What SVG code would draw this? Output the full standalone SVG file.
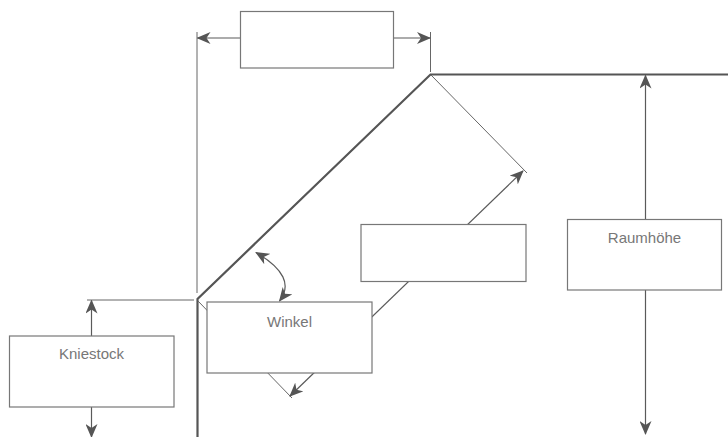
<svg xmlns="http://www.w3.org/2000/svg" width="728" height="437" viewBox="0 0 728 437">
<style>
.box{fill:#fff;stroke:#777;stroke-width:1.2}
.lbl{font-family:"Liberation Sans",Arial,sans-serif;font-size:15px;fill:#777;text-anchor:middle}
.thin{fill:none;stroke:#666;stroke-width:1}
.thick{fill:none;stroke:#555;stroke-width:2.2}
.dim{fill:none;stroke:#5a5a5a;stroke-width:1.2;marker-start:url(#ah);marker-end:url(#ah)}
</style>
<defs>
<marker id="ah" viewBox="0 0 14 12" refX="13" refY="6" markerWidth="14" markerHeight="12" markerUnits="userSpaceOnUse" orient="auto-start-reverse">
<path d="M0,0 L14,6 L0,12 L4,6 z" fill="#555"/>
</marker>
</defs>
<g id="building">
<polyline class="thick" points="197.5,437 197.5,299 430.5,74.5 728,74.5"/>
<line class="thin" x1="197" y1="32" x2="197" y2="293"/>
<line class="thin" x1="430.5" y1="32" x2="430.5" y2="72"/>
<line class="thin" x1="87" y1="300" x2="194" y2="300"/>
<line class="thin" x1="431" y1="75" x2="527" y2="173"/>
<line class="thin" x1="198" y1="301" x2="292" y2="398"/>
</g>
<g id="connectors">
<line class="dim" x1="197.5" y1="38" x2="430" y2="38"/>
<line class="dim" x1="91.5" y1="300.5" x2="91.5" y2="437"/>
<line class="dim" x1="645.5" y1="75.5" x2="645.5" y2="434"/>
<line class="dim" x1="290" y1="396" x2="523" y2="171"/>
<path class="dim" d="M256,252.5 Q298,277 279.5,301"/>
</g>
<g id="node-top"><rect class="box" x="240.5" y="11.5" width="153" height="56.5"/></g>
<g id="node-middle"><rect class="box" x="361" y="224.5" width="165" height="57"/></g>
<g id="node-winkel"><rect class="box" x="207" y="302" width="165" height="71"/><text class="lbl" x="289.5" y="327">Winkel</text></g>
<g id="node-kniestock"><rect class="box" x="9.5" y="336" width="164.5" height="71"/><text class="lbl" x="91.5" y="359">Kniestock</text></g>
<g id="node-raumhoehe"><rect class="box" x="567.5" y="219.5" width="154" height="70.5"/><text class="lbl" x="644.5" y="243">Raumhöhe</text></g>
</svg>
